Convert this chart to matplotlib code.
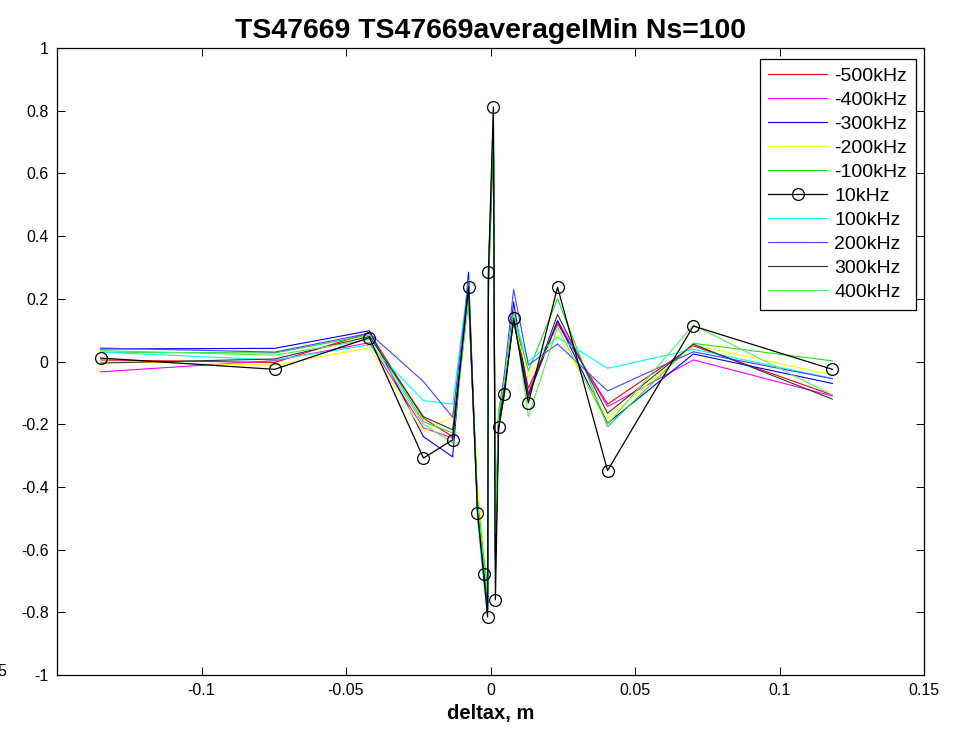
import matplotlib
matplotlib.use("Agg")
import matplotlib.pyplot as plt

plt.rcParams["font.family"] = ["Liberation Sans", "DejaVu Sans"]

# sample positions (m)
deltax = [-0.1349, -0.0747, -0.0419, -0.0232, -0.0131, -0.0076, -0.0045, -0.0024,
          -0.0010, -0.0007, 0.0010, 0.0017, 0.0028, 0.0048, 0.0080, 0.0131,
          0.0232, 0.0405, 0.0702, 0.1183]

labels = ["-500kHz", "-400kHz", "-300kHz", "-200kHz", "-100kHz",
          "10kHz", "100kHz", "200kHz", "300kHz", "400kHz"]

m500 = [0.005, -0.003, 0.092, -0.181, -0.24, 0.21, -0.46, -0.64, -0.78, 0.25,
        0.72, -0.6, -0.18, -0.08, 0.14, -0.085, 0.12, -0.136, 0.05, -0.107]
m400 = [-0.033, 0.003, 0.06, -0.212, -0.244, 0.2, -0.47, -0.66, -0.79, 0.24,
        0.7, -0.62, -0.2, -0.09, 0.13, -0.1, 0.13, -0.144, 0.005, -0.11]
m300 = [0.04, 0.042, 0.098, -0.24, -0.304, 0.285, -0.48, -0.68, -0.8, 0.3,
        0.75, -0.63, -0.22, -0.1, 0.19, -0.11, 0.13, -0.197, 0.024, -0.07]
m200 = [0.0, -0.012, 0.044, -0.224, -0.176, 0.21, -0.4, -0.6, -0.76, 0.22,
        0.7, -0.58, -0.15, -0.06, 0.13, -0.05, 0.085, -0.181, 0.053, -0.043]
m100 = [0.03, 0.027, 0.085, -0.192, -0.228, 0.22, -0.44, -0.62, -0.72, 0.26,
        0.74, -0.54, -0.16, -0.05, 0.15, -0.03, 0.2, -0.208, 0.058, 0.002]
p10 = [0.011, -0.025, 0.076, -0.308, -0.25, 0.238, -0.483, -0.678, -0.815, 0.285,
       0.812, -0.76, -0.21, -0.104, 0.138, -0.132, 0.237, -0.348, 0.113, -0.025]
p100 = [0.03, 0.005, 0.053, -0.125, -0.136, 0.26, -0.5, -0.7, -0.8, 0.3,
        0.81, -0.68, -0.2, -0.07, 0.14, 0.0, 0.077, -0.022, 0.039, -0.054]
p200 = [0.043, 0.03, 0.09, -0.064, -0.178, 0.25, -0.46, -0.65, -0.77, 0.28,
        0.76, -0.6, -0.17, -0.04, 0.23, -0.011, 0.056, -0.094, 0.031, -0.055]
p300 = [-0.005, 0.008, 0.08, -0.176, -0.218, 0.22, -0.45, -0.64, -0.77, 0.26,
        0.72, -0.65, -0.19, -0.08, 0.13, -0.11, 0.15, -0.165, 0.055, -0.12]
p400 = [0.035, 0.02, 0.07, -0.2, -0.26, 0.2, -0.45, -0.63, -0.75, 0.27,
        0.78, -0.55, -0.17, -0.06, 0.16, -0.176, 0.11, -0.2, 0.116, -0.107]

series = [m500, m400, m300, m200, m100, p10, p100, p200, p300, p400]
colors = ["#ff0000", "#ff00ff", "#0000ee", "#ffff00", "#22dd22",
          "#000000", "#00ffff", "#4444ff", "#333333", "#55ee55"]

x_ticks = [-0.1, -0.05, 0, 0.05, 0.1, 0.15]
x_ticklabels = ["-0.1", "-0.05", "0", "0.05", "0.1", "0.15"]
y_ticks = [-1, -0.8, -0.6, -0.4, -0.2, 0, 0.2, 0.4, 0.6, 0.8, 1]
y_ticklabels = ["-1", "-0.8", "-0.6", "-0.4", "-0.2", "0", "0.2", "0.4", "0.6", "0.8", "1"]

fig = plt.figure(figsize=(9.58, 7.31), dpi=100)
ax = fig.add_axes([57 / 958, 1 - 675 / 731, (924 - 57) / 958, (675 - 48) / 731])

for name, vals, col in zip(labels, series, colors):
    if name == "10kHz":
        ax.plot(deltax, vals, color=col, lw=0.9, marker="o", markersize=8.5,
                markerfacecolor="none", markeredgewidth=0.9, label=name, zorder=3)
    else:
        ax.plot(deltax, vals, color=col, lw=0.8, label=name)

ax.set_xlim(-0.15, 0.15)
ax.set_ylim(-1, 1)
ax.set_xticks(x_ticks)
ax.set_xticklabels(x_ticklabels)
ax.set_yticks(y_ticks)
ax.set_yticklabels(y_ticklabels)
ax.tick_params(direction="in", length=6, width=0.7, labelsize=11.5,
               top=True, right=True, pad=6)
for spine in ax.spines.values():
    spine.set_linewidth(0.9)

ax.set_title("TS47669 TS47669averageIMin Ns=100", fontsize=20.5, fontweight="bold", pad=7)
ax.set_xlabel("deltax, m", fontsize=14.5, fontweight="bold", labelpad=4)

leg = ax.legend(loc="upper right", bbox_to_anchor=(0.991, 0.983), borderaxespad=0,
                fontsize=14, handlelength=3.0, labelspacing=0.33, handletextpad=0.4,
                borderpad=0.45, fancybox=False, framealpha=1, edgecolor="black")
leg.get_frame().set_linewidth(0.9)

fig.text(-0.003, 1 - 672 / 731, "5", fontsize=11.5, va="center", ha="left")

fig.savefig("out.png", dpi=100)
